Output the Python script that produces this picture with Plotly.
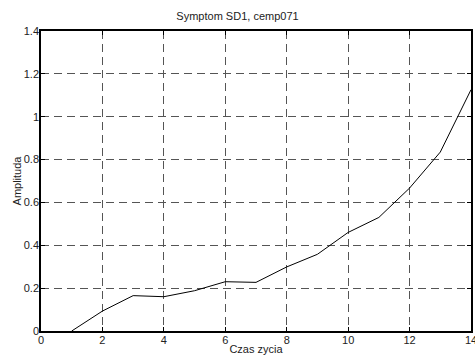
import plotly.graph_objects as go

x_vals = [1, 2, 3, 4, 5, 6, 7, 8, 9, 10, 11, 12, 13, 14]
amplitude = [0.0, 0.093, 0.165, 0.16, 0.188, 0.23, 0.227, 0.299, 0.358, 0.46, 0.53, 0.667, 0.835, 1.126]
x_ticks = [0, 2, 4, 6, 8, 10, 12, 14]
y_ticks = [0, 0.2, 0.4, 0.6, 0.8, 1, 1.2, 1.4]
y_tick_text = ["0", "0.2", "0.4", "0.6", "0.8", "1", "1.2", "1.4"]

fig = go.Figure()
fig.add_trace(go.Scatter(x=x_vals, y=amplitude, mode="lines",
                         line=dict(color="black", width=1), showlegend=False))

font = dict(family="Liberation Sans, Arial, sans-serif", size=11, color="#222")
axis_common = dict(showline=True, linecolor="black", linewidth=1.5, mirror="ticks",
                   ticks="inside", ticklen=4, tickcolor="black",
                   showgrid=True, gridcolor="#555", gridwidth=1, griddash="8px,5px",
                   zeroline=False, tickfont=font, automargin=False,
                   ticklabeloverflow="allow")

fig.update_layout(
    width=475, height=356,
    margin=dict(l=41, r=4, t=31, b=25),
    paper_bgcolor="white", plot_bgcolor="white",
    title=dict(text="Symptom SD1, cemp071", x=0.5, xanchor="center", y=0.955, yanchor="middle",
               font=dict(family="Liberation Sans, Arial, sans-serif", size=11, color="#222")),
    font=font,
)
fig.update_xaxes(range=[0, 14], tickvals=x_ticks, ticktext=[str(v) for v in x_ticks],
                 ticklabelstandoff=-2,
                 title=dict(text="Czas zycia", standoff=0, font=font), **axis_common)
fig.update_yaxes(range=[0, 1.4], tickvals=y_ticks, ticktext=y_tick_text,
                 ticklabelstandoff=-2,
                 title=dict(text="Amplituda", standoff=0, font=font), **axis_common)

fig.write_html("out.html", config={"displayModeBar": False},
               post_script="document.body.style.margin='0';document.body.style.overflow='hidden';")
